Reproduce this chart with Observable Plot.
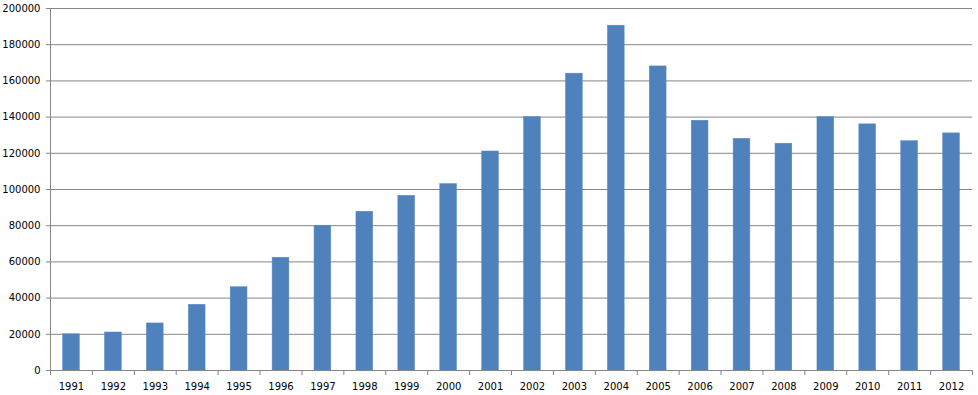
<!DOCTYPE html>
<html>
<head>
<meta charset="utf-8">
<script src="https://cdn.jsdelivr.net/npm/d3@7"></script>
<script src="https://cdn.jsdelivr.net/npm/@observablehq/plot@0.6"></script>
<style>
  html, body { margin: 0; padding: 0; background: #fff; }
  #chart svg { display: block; }
</style>
</head>
<body>
<div id="chart"></div>
<script>
const years = ["1991","1992","1993","1994","1995","1996","1997","1998","1999","2000","2001","2002","2003","2004","2005","2006","2007","2008","2009","2010","2011","2012"];
const values = [20000,21000,26000,36300,46000,62300,80000,87700,96500,103000,121000,140000,164000,190500,168000,138000,128000,125300,140000,136000,126700,131000];
const yTicks = [0,20000,40000,60000,80000,100000,120000,140000,160000,180000,200000];

const data = years.map((y, i) => ({year: y, value: values[i]}));

const W = 978, H = 395;
const mL = 50, mR = 6, mT = 8, mB = 25;
const step = (W - mL - mR) / years.length;
const gap = step * 0.3;
const gray = "#868686";

const plot = Plot.plot({
  width: W,
  height: H,
  marginLeft: mL,
  marginRight: mR,
  marginTop: mT,
  marginBottom: mB,
  style: {fontFamily: "DejaVu Sans, sans-serif", fontSize: "10px", color: "#000", background: "#fff"},
  x: {type: "band", domain: years, padding: 0, round: false, label: null},
  y: {domain: [0, 200000], label: null},
  marks: [
    Plot.gridY(yTicks, {stroke: gray, strokeOpacity: 1, strokeWidth: 1}),
    Plot.axisY(yTicks, {tickSize: 4, tickPadding: 6, stroke: gray, strokeOpacity: 1, tickFormat: d => String(d), fill: "#000", label: null}),
    Plot.barY(data, {x: "year", y: "value", fill: "#4F81BD", stroke: "#5a8ac4", strokeWidth: 0.5, insetLeft: gap, insetRight: gap}),
    Plot.ruleY([0], {stroke: gray, strokeWidth: 1}),
    Plot.ruleX([years[0]], {y1: 0, y2: 200000, dx: -step / 2, stroke: gray, strokeWidth: 1}),
    Plot.axisX(years, {tickSize: 5, dx: -step / 2, text: null, stroke: gray, strokeOpacity: 1, label: null}),
    Plot.axisX([years[years.length - 1]], {tickSize: 5, dx: step / 2, text: null, stroke: gray, strokeOpacity: 1, label: null}),
    Plot.axisX(years, {tickSize: 0, tickPadding: 12, fill: "#000", label: null})
  ]
});
document.getElementById("chart").appendChild(plot);
</script>
</body>
</html>
